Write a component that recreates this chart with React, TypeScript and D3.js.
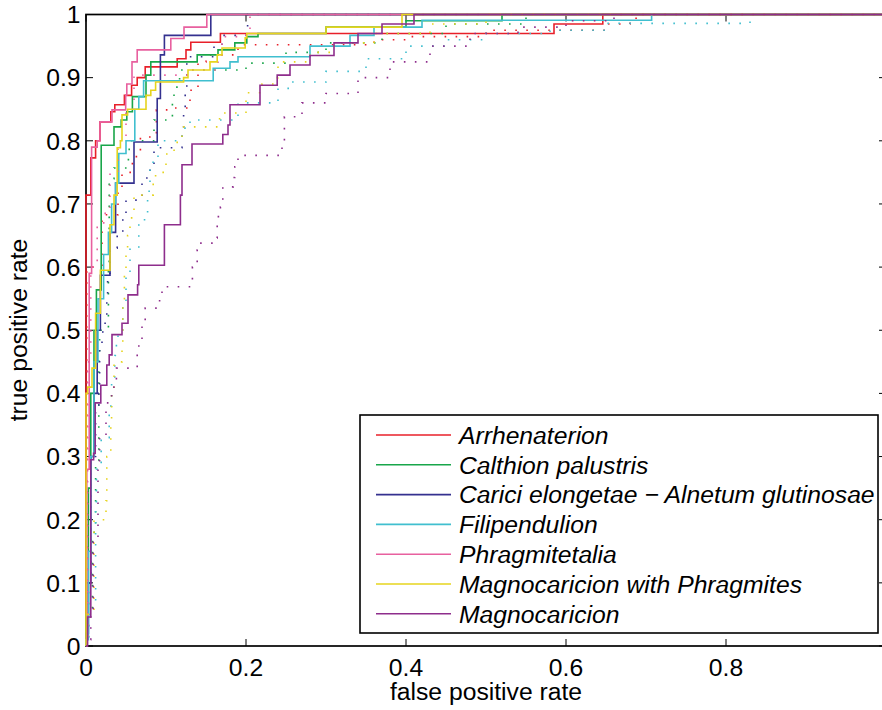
import React from "react";
import * as d3 from "d3";

type Pt = [number, number];

const classNames = [
  "Arrhenaterion",
  "Calthion palustris",
  "Carici elongetae \u2212 Alnetum glutinosae",
  "Filipendulion",
  "Phragmitetalia",
  "Magnocaricion with Phragmites",
  "Magnocaricion",
];

const classColors = ["#e8202a", "#19a64a", "#34318f", "#40bfcf", "#e8609f", "#e6d41e", "#8e2d8c"];

// solid ROC curves: [fpr, tpr] — tpr rises at given fpr
const rocArrhenaterion: Pt[] = [[0,0],[0,0.714],[0.006,0.773],[0.012,0.80],[0.0175,0.83],[0.031,0.846],[0.036,0.857],[0.048,0.872],[0.057,0.888],[0.064,0.90],[0.074,0.917],[0.114,0.93],[0.125,0.944],[0.131,0.956],[0.168,0.97],[0.585,0.985],[0.646,1],[1,1]];
const rocCalthion: Pt[] = [[0,0],[0,0.05],[0.003,0.25],[0.006,0.40],[0.01,0.50],[0.013,0.564],[0.019,0.793],[0.035,0.822],[0.044,0.833],[0.051,0.846],[0.058,0.87],[0.075,0.904],[0.081,0.925],[0.139,0.936],[0.165,0.944],[0.186,0.955],[0.201,0.965],[0.215,0.97],[0.30,0.98],[0.40,0.99],[0.52,1],[1,1]];
const rocCarici: Pt[] = [[0,0],[0,0.02],[0.003,0.10],[0.006,0.30],[0.01,0.40],[0.014,0.50],[0.018,0.587],[0.03,0.655],[0.037,0.733],[0.06,0.798],[0.089,0.867],[0.093,0.936],[0.098,0.967],[0.156,1],[1,1]];
const rocFilipendulion: Pt[] = [[0,0],[0,0.01],[0.003,0.15],[0.006,0.30],[0.01,0.45],[0.015,0.55],[0.022,0.62],[0.028,0.655],[0.032,0.70],[0.037,0.733],[0.041,0.78],[0.05,0.80],[0.061,0.85],[0.066,0.87],[0.072,0.895],[0.159,0.915],[0.18,0.925],[0.19,0.933],[0.28,0.95],[0.33,0.967],[0.36,0.98],[0.42,0.991],[0.707,1],[1,1]];
const rocPhragmitetalia: Pt[] = [[0,0],[0.001,0.28],[0.004,0.59],[0.007,0.79],[0.014,0.80],[0.0175,0.83],[0.0325,0.849],[0.0496,0.8725],[0.051,0.89],[0.0575,0.925],[0.064,0.944],[0.106,0.962],[0.1225,0.98],[0.151,1],[1,1]];
const rocMagnoPhrag: Pt[] = [[0,0],[0,0.40],[0.002,0.41],[0.0075,0.44],[0.012,0.527],[0.018,0.595],[0.03,0.667],[0.035,0.714],[0.039,0.789],[0.043,0.80],[0.045,0.841],[0.052,0.85],[0.075,0.872],[0.081,0.88],[0.087,0.893],[0.122,0.90],[0.1275,0.912],[0.155,0.925],[0.164,0.936],[0.17,0.947],[0.199,0.963],[0.201,0.97],[0.30,0.98],[0.395,1],[1,1]];
const rocMagnocaricion: Pt[] = [[0,0],[0.002,0.046],[0.006,0.295],[0.0095,0.305],[0.0115,0.385],[0.0185,0.413],[0.026,0.445],[0.029,0.461],[0.0325,0.493],[0.045,0.511],[0.0525,0.556],[0.0645,0.572],[0.066,0.603],[0.098,0.667],[0.118,0.714],[0.12,0.762],[0.1325,0.795],[0.171,0.81],[0.1775,0.825],[0.18,0.857],[0.2175,0.888],[0.239,0.904],[0.255,0.92],[0.28,0.935],[0.31,0.955],[0.34,0.97],[0.37,0.985],[0.41,1],[1,1]];

// dotted ROC curves (second model)
const dotArrhenaterion: Pt[] = [[0,0],[0.001,0.60],[0.018,0.60],[0.02,0.683],[0.04,0.725],[0.045,0.75],[0.058,0.775],[0.068,0.806],[0.088,0.849],[0.105,0.852],[0.13,0.88],[0.14,0.925],[0.15,0.936],[0.19,0.952],[0.36,0.96],[0.4,0.965],[0.5,0.975],[0.65,0.985],[0.68,0.994],[0.69,1],[1,1]];
const dotCalthion: Pt[] = [[0,0],[0.003,0.05],[0.008,0.18],[0.012,0.29],[0.016,0.46],[0.017,0.50],[0.028,0.60],[0.029,0.74],[0.035,0.757],[0.053,0.78],[0.054,0.80],[0.085,0.833],[0.108,0.868],[0.11,0.885],[0.117,0.912],[0.2,0.923],[0.25,0.94],[0.3,0.955],[0.37,0.97],[0.45,0.985],[0.55,1],[1,1]];
const dotCarici: Pt[] = [[0,0],[0.003,0.10],[0.006,0.30],[0.012,0.37],[0.016,0.40],[0.017,0.47],[0.02,0.485],[0.021,0.511],[0.026,0.545],[0.027,0.585],[0.03,0.63],[0.039,0.654],[0.046,0.68],[0.05,0.706],[0.07,0.741],[0.08,0.758],[0.085,0.789],[0.12,0.81],[0.122,0.844],[0.124,0.876],[0.126,0.923],[0.128,0.933],[0.16,0.95],[0.17,0.967],[0.2,0.98],[0.202,1],[1,1]];
const dotFilipendulion: Pt[] = [[0,0],[0.002,0.014],[0.003,0.07],[0.012,0.22],[0.013,0.28],[0.019,0.33],[0.029,0.38],[0.032,0.42],[0.036,0.46],[0.038,0.48],[0.04,0.495],[0.046,0.54],[0.05,0.585],[0.055,0.63],[0.066,0.675],[0.076,0.685],[0.077,0.72],[0.08,0.766],[0.09,0.80],[0.12,0.82],[0.13,0.833],[0.19,0.86],[0.24,0.883],[0.255,0.893],[0.3,0.91],[0.35,0.93],[0.4,0.95],[0.45,0.96],[0.5,0.97],[0.58,0.975],[0.65,0.986],[0.83,1],[1,1]];
const dotPhragmitetalia: Pt[] = [[0,0],[0.002,0.45],[0.006,0.6],[0.014,0.67],[0.024,0.69],[0.03,0.75],[0.04,0.8],[0.05,0.85],[0.06,0.904],[0.13,0.912],[0.165,0.93],[0.17,0.965],[0.2,0.975],[0.205,1],[1,1]];
const dotMagnoPhrag: Pt[] = [[0,0],[0.002,0.05],[0.01,0.20],[0.025,0.23],[0.026,0.30],[0.031,0.35],[0.032,0.40],[0.035,0.45],[0.045,0.48],[0.046,0.55],[0.048,0.59],[0.05,0.624],[0.052,0.65],[0.055,0.678],[0.06,0.714],[0.084,0.738],[0.087,0.75],[0.1,0.77],[0.101,0.785],[0.114,0.80],[0.12,0.822],[0.165,0.833],[0.167,0.844],[0.2,0.876],[0.22,0.89],[0.235,0.9],[0.24,0.925],[0.28,0.94],[0.31,0.955],[0.36,0.97],[0.43,0.985],[0.5,1],[1,1]];
const dotMagnocaricion: Pt[] = [[0,0],[0.004,0.01],[0.006,0.05],[0.009,0.17],[0.015,0.28],[0.017,0.33],[0.025,0.385],[0.032,0.41],[0.038,0.44],[0.064,0.475],[0.07,0.508],[0.074,0.535],[0.092,0.55],[0.095,0.569],[0.133,0.60],[0.139,0.627],[0.142,0.638],[0.163,0.646],[0.164,0.68],[0.168,0.695],[0.171,0.727],[0.184,0.742],[0.186,0.759],[0.19,0.777],[0.245,0.80],[0.248,0.838],[0.27,0.86],[0.3,0.875],[0.34,0.9],[0.38,0.925],[0.43,0.95],[0.48,0.97],[0.54,0.98],[0.6,0.99],[0.66,1],[1,1]];

const solidCurves = [rocArrhenaterion, rocCalthion, rocCarici, rocFilipendulion, rocPhragmitetalia, rocMagnoPhrag, rocMagnocaricion];
const dottedCurves = [dotArrhenaterion, dotCalthion, dotCarici, dotFilipendulion, dotPhragmitetalia, dotMagnoPhrag, dotMagnocaricion];

const xTicks = [0, 0.2, 0.4, 0.6, 0.8, 1];
const xTickLabels = ["0", "0.2", "0.4", "0.6", "0.8", ""];
const yTicks = [0, 0.1, 0.2, 0.3, 0.4, 0.5, 0.6, 0.7, 0.8, 0.9, 1];
const yTickLabels = ["0", "0.1", "0.2", "0.3", "0.4", "0.5", "0.6", "0.7", "0.8", "0.9", "1"];

const W = 882;
const H = 710;

export default function App() {
  const x = d3.scaleLinear().domain([0, 1]).range([86, 886]);
  const y = d3.scaleLinear().domain([0, 1]).range([646, 14.5]);
  const line = d3
    .line<Pt>()
    .x((d) => x(d[0]))
    .y((d) => y(d[1]))
    .curve(d3.curveStepAfter);

  const font = "'Liberation Sans', Arial, Helvetica, sans-serif";
  const fs = 24.7;
  const tickLen = 7;
  const legX = 360;
  const legY = 415;
  const legW = 518;
  const legH = 218;
  const rowH = 29.8;

  return (
    <div style={{ position: "absolute", left: 0, top: 0, width: W, height: H, background: "#fff" }}>
      <svg width={W} height={H} style={{ display: "block" }} fontFamily={font}>
        <rect x={0} y={0} width={W} height={H} fill="#fff" />
        {/* axes box */}
        <rect x={x(0)} y={y(1)} width={x(1) - x(0)} height={y(0) - y(1)} fill="none" stroke="#000" strokeWidth={1.7} />
        {xTicks.map((t, i) => (
          <g key={"xt" + i}>
            <line x1={x(t)} x2={x(t)} y1={y(0)} y2={y(0) - tickLen} stroke="#000" strokeWidth={1} />
            <line x1={x(t)} x2={x(t)} y1={y(1)} y2={y(1) + tickLen} stroke="#000" strokeWidth={1} />
            {xTickLabels[i] !== "" && (
              <text x={x(t)} y={675.5} textAnchor="middle" fontSize={fs} fill="#000">
                {xTickLabels[i]}
              </text>
            )}
          </g>
        ))}
        {yTicks.map((t, i) => (
          <g key={"yt" + i}>
            <line x1={x(0)} x2={x(0) + tickLen} y1={y(t)} y2={y(t)} stroke="#000" strokeWidth={1} />
            <line x1={x(1)} x2={x(1) - tickLen} y1={y(t)} y2={y(t)} stroke="#000" strokeWidth={1} />
            <text x={80.5} y={y(t) + 8.8} textAnchor="end" fontSize={fs} fill="#000">
              {yTickLabels[i]}
            </text>
          </g>
        ))}
        <text x={486} y={699.5} textAnchor="middle" fontSize={fs} fill="#000">
          false positive rate
        </text>
        <text transform={`translate(27,330) rotate(-90)`} textAnchor="middle" fontSize={fs} fill="#000">
          true positive rate
        </text>

        {/* curves */}
        {solidCurves.map((c, i) => (
          <g key={"c" + i}>
            <path d={line(c) || ""} fill="none" stroke={classColors[i]} strokeWidth={1.6} />
            <path
              d={line(dottedCurves[i]) || ""}
              fill="none"
              stroke={classColors[i]}
              strokeWidth={1.6}
              strokeDasharray="1.6 9.4"
            />
          </g>
        ))}

        {/* legend */}
        <rect x={legX} y={legY} width={legW} height={legH} fill="#fff" stroke="#000" strokeWidth={1.6} />
        {classNames.map((n, i) => {
          const cy = legY + 20 + i * rowH;
          return (
            <g key={"lg" + i}>
              <line x1={376} x2={451} y1={cy} y2={cy} stroke={classColors[i]} strokeWidth={1.6} />
              <text x={459} y={cy + 8.8} fontSize={fs} fontStyle="italic" fill="#000">
                {n}
              </text>
            </g>
          );
        })}
      </svg>
    </div>
  );
}
